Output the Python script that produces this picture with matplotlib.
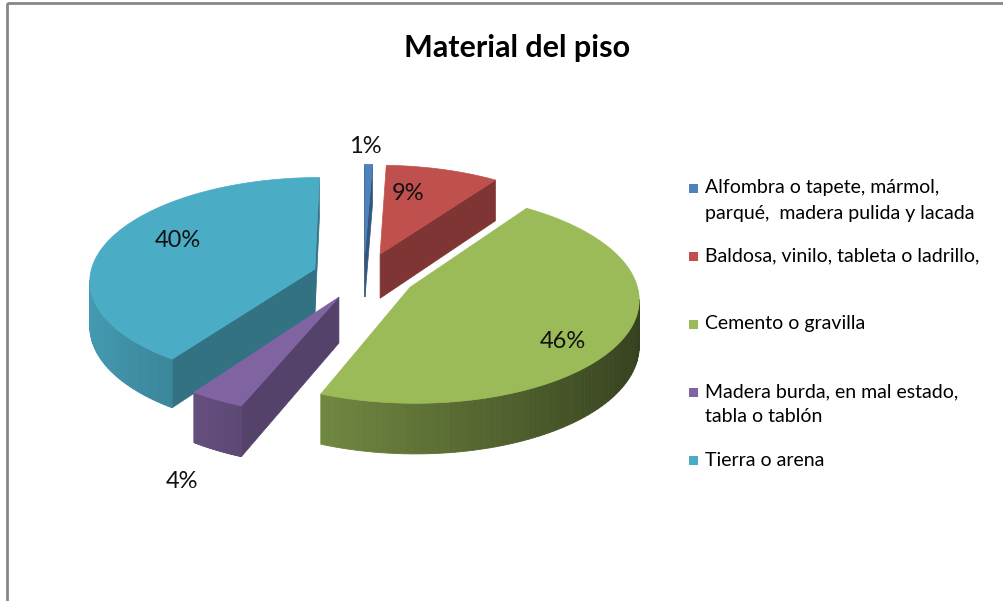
import numpy as np
import matplotlib.pyplot as plt
from matplotlib.colors import to_rgb
from matplotlib.patches import Polygon, Rectangle

# data (shares; labels show them rounded)
categories = [
    "Alfombra o tapete, mármol,\nparqué,  madera pulida y lacada",
    "Baldosa, vinilo, tableta o ladrillo,",
    "Cemento o gravilla",
    "Madera burda, en mal estado,\ntabla o tablón",
    "Tierra o arena",
]
share = [0.6, 9, 46, 3.5, 40]
colors = ['#4F81BD', '#C0504D', '#9BBB59', '#8064A2', '#4BACC6']

plt.rcParams['font.family'] = ['Lato', 'DejaVu Sans']

# 3d pie layout (pixels)
cx, cy = 364, 276
rx, ry = 225, 102
depth = 45
explode = 0.23
persp = 0.1
# where the % labels go: fraction along the slice (clockwise) and radius
label_f = [0.0, 0.3, 0.56, 0.4, 0.55]
label_r = [1.22, 0.68, 0.8, 1.3, 0.7]


def proj(X, Y, Z=0.0):
    s = 1.0 / (1.0 + persp * Y)
    return cx + rx * X * s, cy - (ry * Y + Z) * s


def shade(c, f):
    return tuple(np.clip(np.array(to_rgb(c)) * f, 0, 1))


def visible(nx, ny, px, py):
    # viewer sits in front of the pie (Y = -1/persp)
    return nx * (-px) + ny * (-1.0 / persp - py) > 0


fig = plt.figure(figsize=(10.04, 6.01), dpi=100)
ax = fig.add_axes([0, 0, 1, 1])
ax.set_xlim(0, 1004)
ax.set_ylim(601, 0)
ax.axis('off')

# chart frame (cropped on right/bottom)
ax.add_patch(Rectangle((7, 2.5), 1100, 700, fill=False, ec='#878787', lw=2))

vals = np.array(share, dtype=float)
pct = np.round(vals / vals.sum() * 100).astype(int)
cum = np.concatenate([[0], np.cumsum(vals)]) / vals.sum() * 360.0
slices = []
for i in range(len(vals)):
    # excel style: first slice at 12 o'clock, going clockwise
    a0 = np.radians(90 - cum[i])
    a1 = np.radians(90 - cum[i + 1])
    mid = (a0 + a1) / 2
    slices.append((i, a0, a1, mid, explode * np.cos(mid), explode * np.sin(mid)))

# back slices first
for i, a0, a1, mid, ox, oy in sorted(slices, key=lambda t: -t[5]):
    base = colors[i]
    th = np.linspace(a0, a1, 120)
    # radial cut faces: outward normals
    faces = [(a0, -np.sin(a0), np.cos(a0)), (a1, np.sin(a1), -np.cos(a1))]
    for a, nx, ny in faces:
        px, py = ox + 0.5 * np.cos(a), oy + 0.5 * np.sin(a)
        if visible(nx, ny, px, py):
            ex, ey = ox + np.cos(a), oy + np.sin(a)
            pts = [proj(ox, oy, 0), proj(ex, ey, 0), proj(ex, ey, -depth), proj(ox, oy, -depth)]
            c = shade(base, 0.66)
            ax.add_patch(Polygon(pts, closed=True, fc=c, ec=c, lw=0.5))
    # outer wall as shaded strips
    for t0, t1 in zip(th[:-1], th[1:]):
        tm = (t0 + t1) / 2
        if not visible(np.cos(tm), np.sin(tm), ox + np.cos(tm), oy + np.sin(tm)):
            continue
        p0 = (ox + np.cos(t0), oy + np.sin(t0))
        p1 = (ox + np.cos(t1), oy + np.sin(t1))
        pts = [proj(*p0, 0), proj(*p1, 0), proj(*p1, -depth), proj(*p0, -depth)]
        c = shade(base, np.clip(0.62 - 0.28 * np.cos(tm), 0.3, 0.95))
        ax.add_patch(Polygon(pts, closed=True, fc=c, ec=c, lw=0.6))
    # top face
    top = [proj(ox, oy, 0)] + [proj(ox + np.cos(t), oy + np.sin(t), 0) for t in th]
    ax.add_patch(Polygon(top, closed=True, fc=base, ec=base, lw=0.5))

# percentage labels
for i, a0, a1, mid, ox, oy in slices:
    r = label_r[i]
    a = a0 + label_f[i] * (a1 - a0)
    lx, ly = proj(ox + r * np.cos(a), oy + r * np.sin(a), 0)
    if r > 1 and np.sin(a) < 0:
        ly += depth
    ax.text(lx, ly, f"{pct[i]}%", ha='center', va='center', fontsize=17, color='#111111')

ax.text(517, 48, "Material del piso", ha='center', va='center', fontsize=22, fontweight='bold')

# legend
ly0, step = 188, 68
for i, name in enumerate(categories):
    y = ly0 + i * step
    ax.add_patch(Rectangle((689, y - 4.5), 9, 9, fc=colors[i], ec='none'))
    ax.text(705, y, name.split('\n')[0], ha='left', va='center', fontsize=14)
    if '\n' in name:
        ax.text(705, y + 25, name.split('\n')[1], ha='left', va='center', fontsize=14)

fig.savefig('out.png', dpi=100)
